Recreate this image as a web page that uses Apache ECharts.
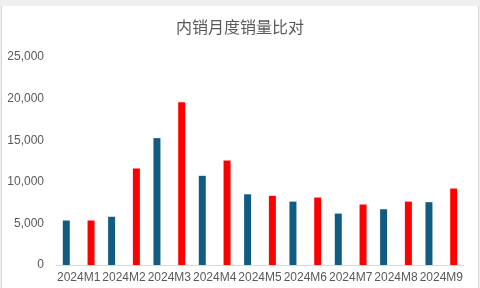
<!DOCTYPE html>
<html><head><meta charset="utf-8">
<script src="https://cdn.jsdelivr.net/npm/echarts@6/dist/echarts.min.js"></script>
<style>
html,body{margin:0;padding:0;background:#efefef;}
#wrap{position:relative;width:480px;height:288px;overflow:hidden;}
#frame{position:absolute;left:1px;top:6px;width:476px;height:290px;background:#fff;border-left:1px solid #d6d6d6;border-right:1px solid #d6d6d6;}
#chart{position:absolute;left:0;top:0;width:480px;height:288px;}
</style></head>
<body><div id="wrap"><div id="frame"></div><div id="chart"></div></div>
<script>
var categories = ['2024M1','2024M2','2024M3','2024M4','2024M5','2024M6','2024M7','2024M8','2024M9'];
var blueValues = [5350, 5800, 15250, 10720, 8500, 7620, 6180, 6700, 7550];
var redValues = [5350, 11600, 19550, 12560, 8310, 8110, 7270, 7620, 9190];
var yTicks = [0, 5000, 10000, 15000, 20000, 25000];

var chart = echarts.init(document.getElementById('chart'), null, {renderer:'canvas'});
chart.setOption({
  animation:false,
  title:{text:'内销月度销量比对', left:'center', top:14,
    textStyle:{fontFamily:'Noto Sans CJK SC', fontWeight:'normal', fontSize:16, color:'#595959'}},
  grid:{left:56, right:16, top:57, bottom:23, containLabel:false},
  xAxis:{type:'category', data:categories,
    axisLine:{lineStyle:{color:'#d9d9d9'}}, axisTick:{show:false},
    axisLabel:{color:'#595959', fontSize:12, fontFamily:'Liberation Sans', margin:7, interval:0}},
  yAxis:{type:'value', min:yTicks[0], max:yTicks[yTicks.length-1], interval:5000,
    splitLine:{show:false}, axisLine:{show:false}, axisTick:{show:false},
    axisLabel:{color:'#595959', fontSize:12, fontFamily:'Liberation Sans', margin:12,
      formatter:function(v){return v.toLocaleString('en-US');}}},
  series:[
    {type:'bar', data:blueValues, barWidth:7, barGap:'254%', itemStyle:{color:'#125c82'}},
    {type:'bar', data:redValues, barWidth:7, itemStyle:{color:'#ff0000'}}
  ]
});
</script></body></html>
